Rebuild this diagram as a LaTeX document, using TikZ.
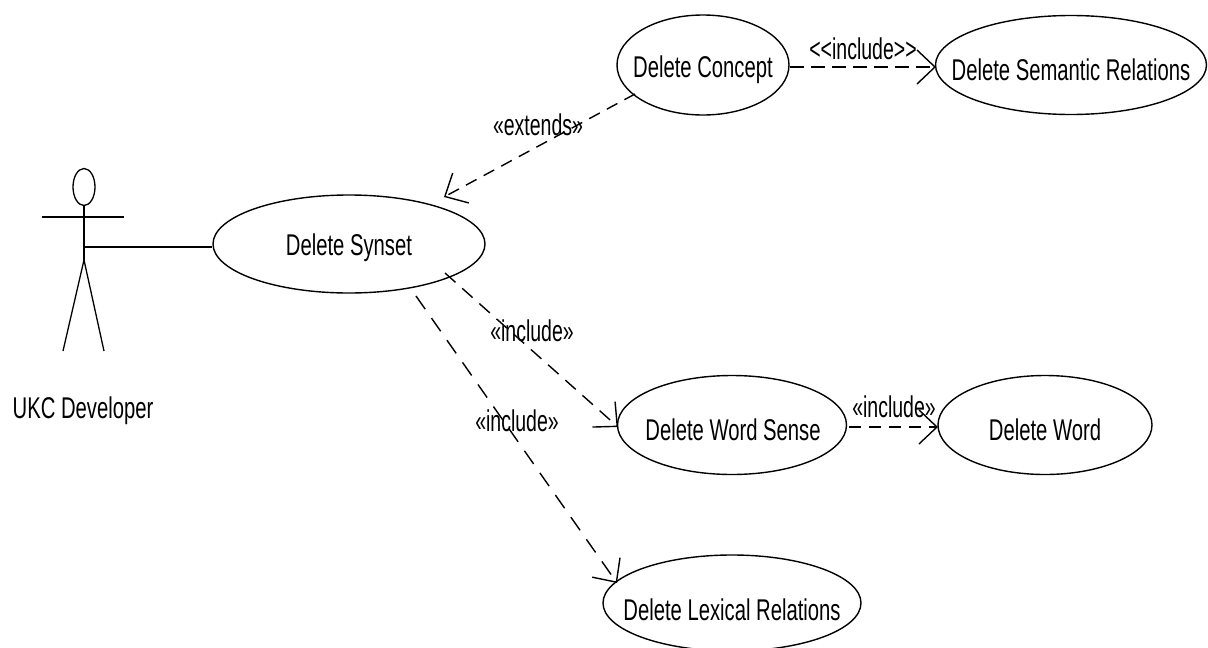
\documentclass[tikz,border=0pt]{standalone}
\usepackage{fontspec}
\setmainfont{Liberation Sans}
\usetikzlibrary{shapes.geometric,arrows.meta}
\tikzset{
 uc/.style={draw=black,ellipse,line width=1.4pt,inner sep=0pt,minimum width=#1},
 lab/.style={font=\fontsize{30}{32}\selectfont,inner sep=0pt,xscale=0.675},
 small/.style={font=\fontsize{30}{32}\selectfont,inner sep=0pt,xscale=0.65},
 dep/.style={draw=black,line width=1.4pt,dash pattern=on 12pt off 8pt,-{Straight Barb[length=18pt,width=34pt,line width=1.4pt]}},
 stick/.style={draw=black,line width=1.3pt}
}
\begin{document}
\begin{tikzpicture}[x=1pt,y=-1pt]
\useasboundingbox (0,0) rectangle (1208,648);
\node[uc=272pt,minimum height=98pt] (syn) at (349,244) {};
\node[lab] at (349,248) {Delete Synset};
\node[uc=172pt,minimum height=100pt] (con) at (703,65) {};
\node[lab] at (703,70) {Delete Concept};
\node[uc=271pt,minimum height=99pt] (sem) at (1071,65) {};
\node[lab] at (1071,70) {Delete Semantic Relations};
\node[uc=229pt,minimum height=99pt] (sen) at (732,425) {};
\node[lab] at (733,430) {Delete Word Sense};
\node[uc=214pt,minimum height=99pt] (wrd) at (1045,425) {};
\node[lab] at (1045,430) {Delete Word};
\node[uc=258pt,minimum height=96pt] (lex) at (732,603) {};
\node[lab] at (732,610) {Delete Lexical Relations};
% actor
\node[draw=black,ellipse,line width=1.3pt,minimum width=22pt,minimum height=37pt,inner sep=0pt] (head) at (84,187) {};
\coordinate (hip) at (84,260);
\coordinate (armL) at (42,217);
\coordinate (armR) at (124,217);
\coordinate (legL) at (63,351);
\coordinate (legR) at (104,351);
\coordinate (neck) at (84,247);
\draw[stick] (head.south) -- (hip);
\draw[black,line width=1.8pt] (armL) -- (armR);
\draw[stick] (hip) -- (legL);
\draw[stick] (hip) -- (legR);
\draw[black,line width=2.2pt] (neck) -- (syn.west |- neck);
\node[lab] (actor) at (83,411) {UKC Developer};
% connectors
\coordinate (c1) at (635,94);
\coordinate (s1) at (444,197);
\draw[dep] (c1) -- (s1);
\coordinate (c2) at (790,67);
\coordinate (s2) at (936,67);
\draw[dep,line width=1.7pt,dash pattern=on 14pt off 7pt] (c2) -- (s2);
\coordinate (c3) at (445,273);
\coordinate (s3) at (618,427);
\draw[dep,dash pattern=on 14pt off 9pt] (c3) -- (s3);
\coordinate (c4) at (849,427);
\coordinate (s4) at (938,427);
\draw[dep,line width=1.7pt,dash pattern=on 12pt off 8pt] (c4) -- (s4);
\coordinate (c5) at (416,296);
\coordinate (s5) at (617,583);
\draw[dep,dash pattern=on 16pt off 11pt] (c5) -- (s5);
\node[small] (e1) at (538,125) {«extends»};
\node[small] (e2) at (863,49) {<{}<include>{}>};
\node[small] (e3) at (532,331) {«include»};
\node[small] (e4) at (894,407) {«include»};
\node[small] (e5) at (517,421) {«include»};
\end{tikzpicture}
\end{document}
